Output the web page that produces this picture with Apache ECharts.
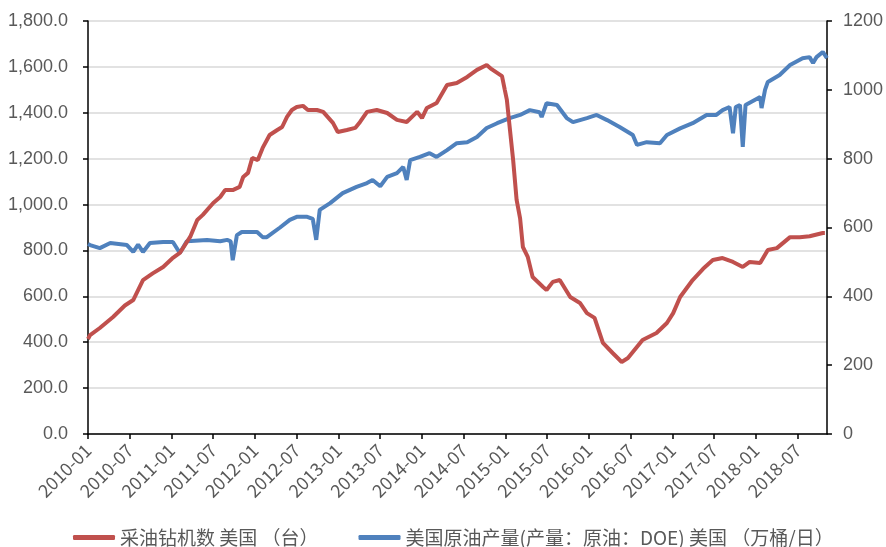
<!DOCTYPE html>
<html>
<head>
<meta charset="utf-8">
<script src="https://cdn.jsdelivr.net/npm/echarts@6/dist/echarts.min.js"></script>
<style>html,body{margin:0;padding:0;background:#fff}#c{width:886px;height:547px}</style>
</head>
<body>
<div id="c"></div>
<script>
// Time is expressed in months since 2010-01
const rigMonths = [0.0,0.3,1.7,3.6,5.3,6.5,7.9,9.3,10.8,12.1,13.2,14.7,15.7,16.5,18.0,19.0,19.7,20.8,21.8,22.3,23.0,23.6,24.4,25.1,26.1,27.2,27.9,28.6,29.3,30.0,30.9,31.6,32.9,33.8,35.2,35.9,37.2,38.4,39.1,40.1,41.5,43.0,44.4,45.8,47.3,48.0,48.7,50.1,51.6,53.0,54.5,55.9,57.3,58.0,58.8,59.5,59.9,60.2,60.6,61.1,61.6,62.1,62.5,63.2,63.9,65.4,65.9,66.8,67.8,69.3,70.7,71.7,72.8,74.0,75.4,76.7,77.6,79.7,81.7,83.2,84.1,85.1,86.9,88.4,89.8,91.2,92.7,94.1,95.1,96.6,97.7,99.0,100.9,102.3,103.7,105.6,105.9];
const rigValues = [414,431,462,510,560,584,671,700,728,765,789,860,933,955,1007,1033,1063,1063,1077,1120,1138,1203,1194,1247,1303,1325,1338,1382,1412,1425,1430,1412,1412,1404,1356,1316,1325,1334,1360,1404,1412,1399,1369,1360,1404,1377,1421,1443,1521,1530,1556,1587,1608,1590,1574,1560,1500,1456,1338,1194,1020,940,815,772,684,641,628,663,671,597,571,527,506,397,353,314,331,410,440,484,527,597,671,720,758,767,750,728,750,745,802,810,858,858,862,876,876];

const oilMonths = [0.0,0.3,1.7,3.2,5.6,6.5,7.2,7.9,8.9,10.8,12.2,13.2,14.2,17.1,19.0,20.0,20.5,20.8,21.4,22.1,24.3,25.1,25.7,27.6,29.0,30.0,31.5,32.3,32.8,33.3,34.8,36.6,38.6,40.1,40.9,42.0,43.0,44.4,45.3,45.8,46.3,47.7,49.1,50.1,51.6,53.0,54.5,55.9,57.3,58.8,60.6,62.1,63.5,64.9,65.2,65.9,67.4,68.8,69.7,71.7,73.1,74.6,76.4,78.3,78.9,80.3,82.2,83.2,85.1,86.9,88.9,90.3,91.2,92.2,92.7,93.1,93.7,94.1,94.5,96.6,96.8,97.3,97.7,99.4,100.9,102.7,103.7,104.2,104.7,105.6,106.2];
const oilValues = [552,549,540,555,549,529,550,529,555,558,558,526,560,564,560,564,560,505,578,587,587,572,572,600,622,631,631,625,564,651,671,700,718,729,738,720,747,758,776,738,796,805,816,805,825,845,848,863,889,903,918,927,941,935,921,961,956,918,906,918,927,912,892,869,840,848,845,869,888,903,927,927,941,950,874,950,956,834,956,979,947,1000,1023,1043,1072,1092,1095,1078,1095,1110,1092];

const tickMonths = [0,6,12,18,24,30,36,42,48,54,60,66,72,78,84,90,96,102];

const seriesNames = ['采油钻机数 美国 （台）', '美国原油产量(产量：原油：DOE) 美国 （万桶/日）'];

function monthLabel(m) {
  const y = 2010 + Math.floor(m / 12);
  const mo = Math.round(m % 12) + 1;
  return y + '-' + (mo < 10 ? '0' + mo : mo);
}
const zip = (a, b) => a.map((v, i) => [v, b[i]]);

const chart = echarts.init(document.getElementById('c'));
const axisLineStyle = { color: '#000', width: 1.5 };
chart.setOption({
  animation: false,
  backgroundColor: '#fff',
  grid: { left: 88, right: 59, top: 21, bottom: 113, containLabel: false },
  legend: {
    left: 73, top: 528, padding: 0,
    itemWidth: 42, itemHeight: 5, itemGap: 40,
    icon: 'roundRect',
    textStyle: { fontFamily: 'Noto Sans CJK SC', fontSize: 19, color: '#595959' },
    data: seriesNames
  },
  xAxis: {
    type: 'value', min: 0, max: 106.2,
    splitLine: { show: false },
    axisLine: { lineStyle: axisLineStyle },
    axisTick: { show: true, length: 5, lineStyle: axisLineStyle, customValues: tickMonths },
    axisLabel: {
      customValues: tickMonths, rotate: 45, margin: 13,
      fontFamily: 'Noto Sans CJK SC', fontSize: 18, color: '#595959',
      formatter: v => monthLabel(v)
    }
  },
  yAxis: [{
    type: 'value', min: 0, max: 1800, interval: 200,
    axisLine: { show: true, lineStyle: axisLineStyle },
    axisTick: { show: true, length: 5, lineStyle: axisLineStyle },
    splitLine: { lineStyle: { color: '#d9d9d9', width: 1.5 } },
    axisLabel: {
      margin: 20, fontFamily: 'Liberation Sans', fontSize: 18, color: '#595959',
      formatter: v => v.toLocaleString('en-US', { minimumFractionDigits: 1, maximumFractionDigits: 1 })
    }
  }, {
    type: 'value', min: 0, max: 1200, interval: 200,
    axisLine: { show: true, lineStyle: axisLineStyle },
    axisTick: { show: true, length: 5, lineStyle: axisLineStyle },
    splitLine: { show: false },
    axisLabel: { margin: 16, fontFamily: 'Liberation Sans', fontSize: 18, color: '#595959', formatter: v => String(v) }
  }],
  series: [{
    name: seriesNames[0], type: 'line', yAxisIndex: 0,
    data: zip(rigMonths, rigValues), showSymbol: false, symbol: 'none',
    lineStyle: { color: '#C0504D', width: 4 }, itemStyle: { color: '#C0504D' }, z: 3
  }, {
    name: seriesNames[1], type: 'line', yAxisIndex: 1,
    data: zip(oilMonths, oilValues), showSymbol: false, symbol: 'none',
    lineStyle: { color: '#4F81BD', width: 4 }, itemStyle: { color: '#4F81BD' }, z: 2
  }]
});
</script>
</body>
</html>
